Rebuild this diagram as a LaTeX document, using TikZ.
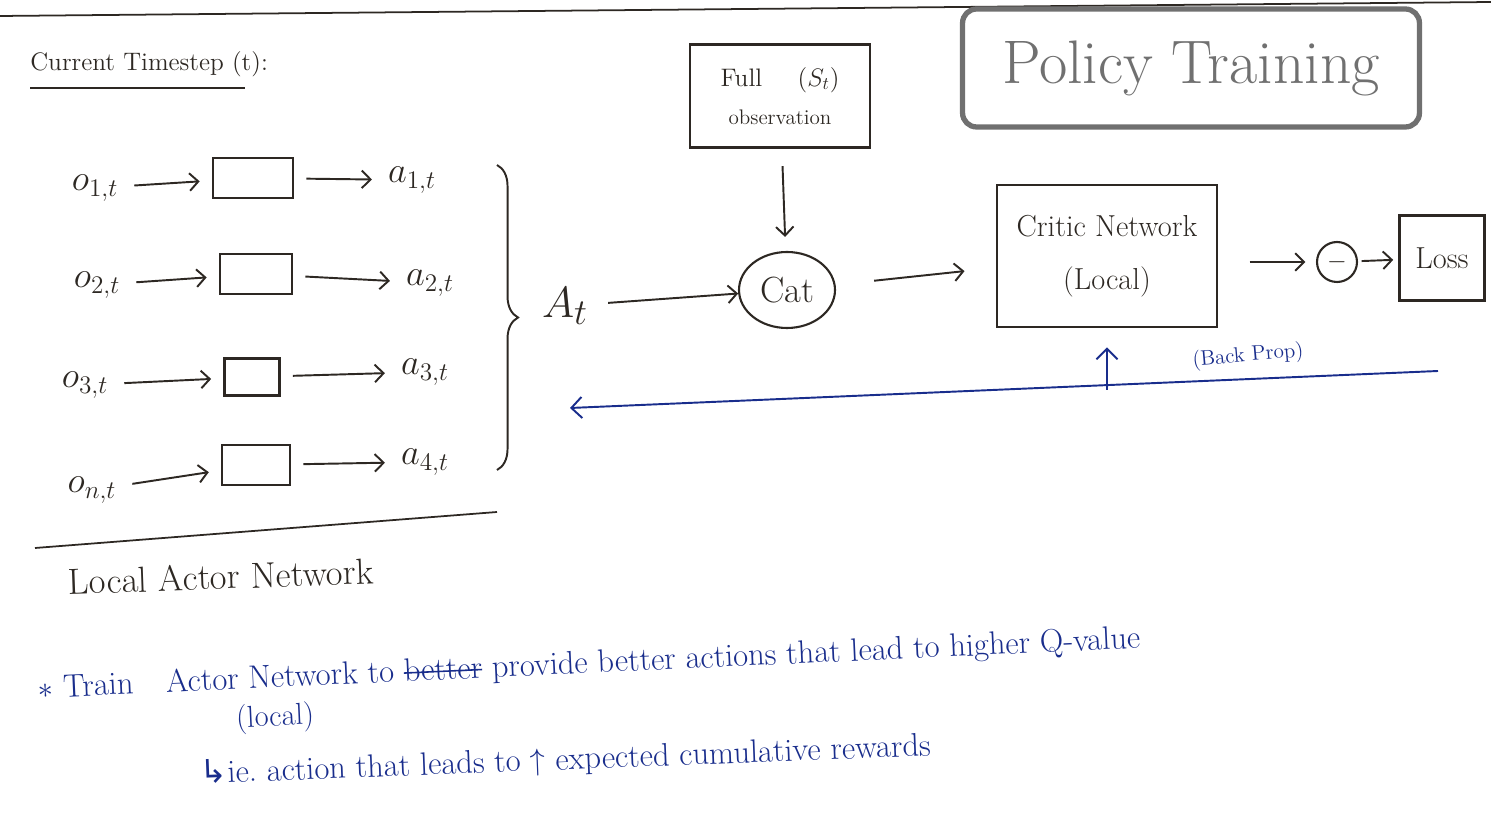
\documentclass[tikz,border=0pt]{standalone}
\usepackage{amsmath, amssymb}
\usepackage{fontspec}
\newfontfamily\arrowfont{DejaVu Sans}
\usepackage{tikz}
\usetikzlibrary{arrows.meta, positioning, decorations.pathreplacing, shapes.geometric}
\usepackage{xcolor}
\definecolor{ink}{RGB}{45,40,35}
\definecolor{inkblue}{RGB}{25,45,140}
\definecolor{pencil}{RGB}{112,112,112}
\newcommand{\strikeword}[1]{\setbox0\hbox{#1}\rlap{\rule[0.55ex]{\wd0}{0.9pt}}\box0\relax}
\tikzset{
  flow/.style={-{Straight Barb[length=5pt,width=10pt]}, draw=ink, line width=1.1pt},
  rowflow/.style={flow, shorten <=7pt, shorten >=7pt},
  backflow/.style={-{Straight Barb[length=6pt,width=12pt]}, draw=inkblue, line width=1.1pt},
  actorbox/.style={draw=ink, line width=1.2pt, inner sep=0pt},
  var/.style={font=\huge, inner sep=2pt},
  note/.style={inkblue, anchor=west, rotate=2.6, inner sep=0pt, font=\fontsize{18.5}{22}\selectfont}
}

\begin{document}
\begin{tikzpicture}[x=0.02cm, y=-0.02cm, font=\Large, text=ink]
        \useasboundingbox (0,0) rectangle (1491,820);
        % --- page edge ---
        \draw[ink, line width=1pt] (0,16) -- (1491,2);

        % --- Current timestep heading ---
        \node[anchor=west, inner sep=0pt] (timestep) at (30,64) {Current Timestep (t):};
        \draw[ink, line width=1pt] (30,88) -- (245,88);

        % --- Local actor networks (one per agent) ---
        \node[var] (o1) at (95,188) {$o_{1,t}$};
        \node[actorbox, minimum width=1.6cm, minimum height=0.8cm] (b1) at (253,178) {};
        \node[var] (a1) at (412,180) {$a_{1,t}$};
        \node[var] (o2) at (97,285) {$o_{2,t}$};
        \node[actorbox, minimum width=1.44cm, minimum height=0.8cm] (b2) at (256,274) {};
        \node[var] (a2) at (430,283) {$a_{2,t}$};
        \node[var] (o3) at (85,385) {$o_{3,t}$};
        \node[actorbox, minimum width=1.1cm, minimum height=0.74cm] (b3) at (252,377) {};
        \node[var] (a3) at (425,372) {$a_{3,t}$};
        \node[var] (o4) at (92,490) {$o_{n,t}$};
        \node[actorbox, minimum width=1.36cm, minimum height=0.8cm] (b4) at (256,465) {};
        \node[var] (a4) at (425,462) {$a_{4,t}$};
        \draw[rowflow] (o1) -- (b1);
        \draw[rowflow] (b1) -- (a1);
        \draw[rowflow] (o2) -- (b2);
        \draw[rowflow] (b2) -- (a2);
        \draw[rowflow] (o3) -- (b3);
        \draw[rowflow] (b3) -- (a3);
        \draw[rowflow] (o4) -- (b4);
        \draw[rowflow] (b4) -- (a4);

        % joint action
        \coordinate (braceTop) at (497,165);
        \coordinate (braceBot) at (497,470);
        \draw[ink, line width=1.1pt, decorate, decoration={brace, amplitude=12pt}]
          (braceTop) -- (braceBot);
        \node[font=\Huge] (At) at (565,306) {$A_t$};

        % underline + caption
        \draw[ink, line width=1pt] (35,548) -- (497,512);
        \node[font=\huge, anchor=west, rotate=2] (actorcap) at (62,582) {Local Actor Network};

        % --- Critic side ---
        \node[draw=ink, line width=1.2pt, minimum width=3.6cm, minimum height=2.06cm,
              align=center, font=\Large] (obs) at (780,96)
              {Full\hspace{1.4em}$(S_t)$\\[4pt] {\large observation}};
        \node[draw=ink, line width=1.2pt, ellipse, minimum width=1.92cm, minimum height=1.52cm,
              font=\huge] (cat) at (787,290) {Cat};
        \node[draw=ink, line width=1.2pt, minimum width=4.4cm, minimum height=2.84cm,
              align=center, font=\LARGE] (critic) at (1107,256) {Critic Network\\[8pt] (Local)};
        \node[draw=ink, line width=1.2pt, circle, minimum size=0.8cm, inner sep=0pt] (minus) at (1337,262) {$-$};
        \node[draw=ink, line width=1.2pt, minimum width=1.7cm, minimum height=1.7cm,
              font=\LARGE] (loss) at (1442,258) {Loss};
        \draw[flow, shorten <=10pt, shorten >=8pt] (obs) -- (cat);
        \draw[flow, shorten <=8pt] (At) -- (cat);
        \draw[flow, shorten <=22pt, shorten >=18pt] (cat) -- (critic);
        \draw[flow, shorten <=18pt, shorten >=6pt] (critic.east |- minus) -- (minus);
        \draw[flow, shorten <=2pt, shorten >=3pt] (minus) -- (loss);

        % --- Title ---
        \node[draw=pencil, line width=3pt, rounded corners=8pt, minimum width=9.14cm,
              minimum height=2.36cm, text=pencil, font=\fontsize{35}{42}\selectfont]
              (title) at (1191,68) {Policy Training};

        % --- Back propagation ---
        \coordinate (bpRight) at (1438,371);
        \coordinate (bpLeft) at (570,408);
        \coordinate (bpUp) at (1107,390);
        \draw[backflow] (bpRight) -- (bpLeft);
        \draw[backflow, shorten >=11pt] (bpUp) -- (critic.south);
        \node[inkblue, font=\large, rotate=5] (bplabel) at (1248,356) {(Back Prop)};

        % --- Notes ---
        \node[note] (note1) at (38,690)
          {$\ast$ Train\quad Actor Network to \strikeword{better} provide better actions that lead to higher Q-value};
        \node[note, font=\LARGE] (note2) at (236,720) {(local)};
        \node[note, rotate=-0.4] (note3) at (200,775)
          {{\arrowfont ↳}ie.\ action that leads to $\uparrow$ expected cumulative rewards};
\end{tikzpicture}
\end{document}
